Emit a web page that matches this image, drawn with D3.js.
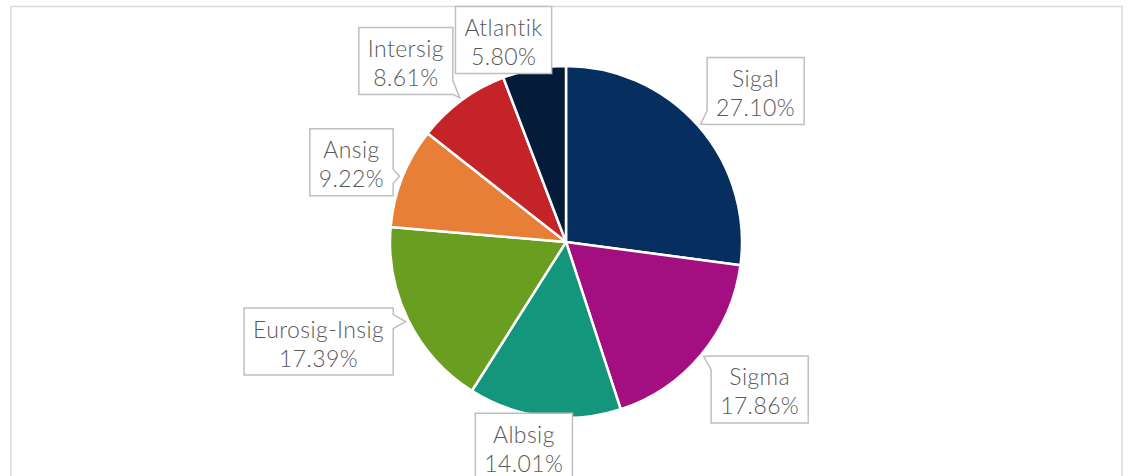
<!DOCTYPE html>
<html>
<head>
<meta charset="utf-8">
<script src="https://cdn.jsdelivr.net/npm/d3@7"></script>
<style>
  html, body { margin: 0; padding: 0; background: #fff; }
  svg { display: block; }
</style>
</head>
<body>
<div id="chart"></div>
<script>
// ── Data ─────────────────────────────────────
const companies = ["Sigal", "Sigma", "Albsig", "Eurosig-Insig", "Ansig", "Intersig", "Atlantik"];
const shares    = [27.10, 17.86, 14.01, 17.39, 9.22, 8.61, 5.80];
const colors    = ["#062f5f", "#a30f80", "#14967c", "#6a9e21", "#e77f37", "#c42427", "#041c3a"];

// label box centre, relative to the point on the slice edge it points at
const labelOffsets = [[55, -33], [56, 33], [-20, 27], [-87, 20], [-48, -14], [-54, -37], [-30, -26]];

// ── Layout ───────────────────────────────────
const W = 1129, H = 476;
const cx = 566, cy = 242, R = 176;
const fmt = d3.format(".2f");

const svg = d3.select("#chart").append("svg")
  .attr("width", W).attr("height", H)
  .attr("viewBox", `0 0 ${W} ${H}`);

// chart area frame
svg.append("rect")
  .attr("x", 11).attr("y", 6.5)
  .attr("width", 1111).attr("height", 520)
  .attr("fill", "#fff")
  .attr("stroke", "#d9d9d9")
  .attr("stroke-width", 1.5);

const data = companies.map((name, i) => ({ name, value: shares[i], color: colors[i], off: labelOffsets[i] }));

const pie = d3.pie().sort(null).value(d => d.value);
const arc = d3.arc().innerRadius(0).outerRadius(R);
const arcs = pie(data);

const g = svg.append("g").attr("transform", `translate(${cx},${cy})`);

g.selectAll("path.slice")
  .data(arcs)
  .join("path")
  .attr("class", "slice")
  .attr("d", arc)
  .attr("fill", d => d.data.color)
  .attr("stroke", "#fff")
  .attr("stroke-width", 2.5)
  .attr("stroke-linejoin", "round");

// ── Callout labels ───────────────────────────
function calloutPath(x0, y0, x1, y1, tx, ty) {
  const inside = tx >= x0 && tx <= x1 && ty >= y0 && ty <= y1;
  if (inside) return `M${x0},${y0}H${x1}V${y1}H${x0}Z`;
  const base = 14;
  const dl = x0 - tx, dr = tx - x1, dt = y0 - ty, db = ty - y1;
  const side = [["l", dl], ["r", dr], ["t", dt], ["b", db]].sort((a, b) => b[1] - a[1])[0][0];
  const clampY = v => Math.max(y0, Math.min(y1 - base, v - base / 2));
  const clampX = v => Math.max(x0, Math.min(x1 - base, v - base / 2));
  if (side === "l") {
    const s = clampY(ty);
    return `M${x0},${y0}H${x1}V${y1}H${x0}V${s + base}L${tx},${ty}L${x0},${s}Z`;
  }
  if (side === "r") {
    const s = clampY(ty);
    return `M${x0},${y0}H${x1}V${s}L${tx},${ty}L${x1},${s + base}V${y1}H${x0}Z`;
  }
  if (side === "t") {
    const s = clampX(tx);
    return `M${x0},${y0}H${s}L${tx},${ty}L${s + base},${y0}H${x1}V${y1}H${x0}Z`;
  }
  const s = clampX(tx);
  return `M${x0},${y0}H${x1}V${y1}H${s + base}L${tx},${ty}L${s},${y1}Z`;
}

const labelLayer = svg.append("g");

arcs.forEach(a => {
  const mid = (a.startAngle + a.endAngle) / 2;
  const tx = cx + (R + 3) * Math.sin(mid);
  const ty = cy - (R + 3) * Math.cos(mid);
  const bx = tx + a.data.off[0];
  const by = ty + a.data.off[1];

  const lg = labelLayer.append("g");
  const box = lg.append("path");
  const text = lg.append("text")
    .attr("text-anchor", "middle")
    .attr("fill", "#595959")
    .attr("font-family", "Lato, 'Open Sans', sans-serif")
    .attr("font-weight", 300)
    .attr("font-size", "23px")
    .attr("letter-spacing", "0.4px");
  const t1 = text.append("tspan").attr("x", bx).attr("y", by - 4).text(a.data.name);
  const t2 = text.append("tspan").attr("x", bx).attr("y", by + 25).text(fmt(a.data.value) + "%");

  const tw = Math.max(t1.node().getComputedTextLength(), t2.node().getComputedTextLength());
  const bw = tw + 18, bh = 67;
  const x0 = bx - bw / 2, x1 = bx + bw / 2, y0 = by - bh / 2, y1 = by + bh / 2;

  box.attr("d", calloutPath(x0, y0, x1, y1, tx, ty))
    .attr("fill", "#fff")
    .attr("stroke", "#bfbfbf")
    .attr("stroke-width", 1.5)
    .attr("stroke-linejoin", "miter");
});
</script>
</body>
</html>
